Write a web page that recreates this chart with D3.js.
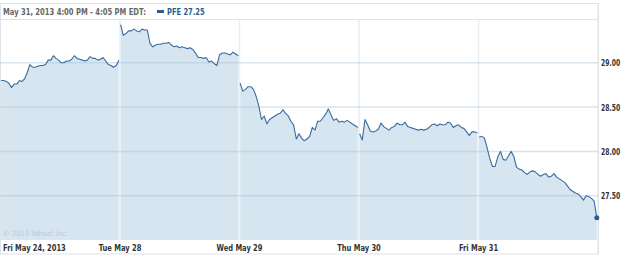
<!DOCTYPE html>
<html>
<head>
<meta charset="utf-8">
<script src="https://cdn.jsdelivr.net/npm/d3@7"></script>
<style>
  body { margin: 0; background: #fff; }
  svg { display: block; }
</style>
</head>
<body>
<div id="chart"></div>
<script>
// session labels and prices (5 min samples)
const dayLabels = ["Fri May 24, 2013", "Tue May 28", "Wed May 29", "Thu May 30", "Fri May 31"];

const fri24 = [28.80, 28.80, 28.79, 28.77, 28.72, 28.76, 28.76, 28.80, 28.79, 28.82, 28.89, 28.98,
    28.95, 28.95, 28.96, 28.97, 28.97, 28.98, 29.03, 29.03, 29.08, 29.05, 29.03, 29.00, 29.00, 29.02,
    29.02, 29.04, 29.08, 29.05, 29.04, 29.03, 29.02, 29.03, 29.07, 29.05, 29.05, 29.03, 29.04, 29.06,
    29.02, 28.98, 28.97, 28.95, 28.97, 29.03];
const tue28 = [29.43, 29.31, 29.33, 29.36, 29.36, 29.38, 29.36, 29.35, 29.38, 29.37, 29.37, 29.22,
    29.18, 29.20, 29.21, 29.21, 29.22, 29.22, 29.23, 29.20, 29.18, 29.19, 29.17, 29.18, 29.17, 29.16,
    29.17, 29.15, 29.11, 29.06, 29.06, 29.05, 29.06, 29.01, 29.02, 28.99, 28.97, 29.09, 29.11, 29.11,
    29.10, 29.09, 29.12, 29.10, 29.08];
const wed29 = [28.77, 28.68, 28.70, 28.73, 28.73, 28.70, 28.62, 28.51, 28.36, 28.40, 28.31, 28.36,
    28.38, 28.40, 28.42, 28.43, 28.47, 28.43, 28.40, 28.34, 28.30, 28.14, 28.20, 28.15, 28.12, 28.14,
    28.17, 28.27, 28.24, 28.34, 28.34, 28.38, 28.42, 28.48, 28.41, 28.35, 28.37, 28.33, 28.34, 28.33,
    28.35, 28.33, 28.31, 28.29, 28.27];
const thu30 = [28.20, 28.13, 28.36, 28.30, 28.23, 28.22, 28.23, 28.25, 28.32, 28.28, 28.26, 28.24,
    28.27, 28.28, 28.32, 28.30, 28.30, 28.33, 28.28, 28.27, 28.26, 28.25, 28.24, 28.25, 28.24, 28.25,
    28.27, 28.30, 28.31, 28.29, 28.31, 28.30, 28.30, 28.33, 28.32, 28.27, 28.29, 28.30, 28.27, 28.26,
    28.22, 28.18, 28.22, 28.22, 28.21];
const fri31 = [28.16, 28.17, 28.15, 28.04, 27.92, 27.83, 27.83, 27.94, 28.00, 27.91, 27.90, 27.95,
    28.00, 27.94, 27.82, 27.80, 27.79, 27.76, 27.74, 27.77, 27.78, 27.77, 27.74, 27.72, 27.74, 27.75,
    27.71, 27.72, 27.75, 27.71, 27.69, 27.67, 27.65, 27.61, 27.57, 27.55, 27.53, 27.52, 27.49, 27.45,
    27.50, 27.49, 27.47, 27.44, 27.25];

const sessions = [fri24, tue28, wed29, thu30, fri31];
const yTicks = [27.5, 28.0, 28.5, 29.0];
const headerLabel = "May 31, 2013 4:00 PM - 4:05 PM EDT:";
const symbol = "PFE";
const lastPrice = 27.25;
const copyright = "\u00a9 2013 Yahoo! Inc.";

// layout
const config = {
    width: 625,
    height: 257,
    plot: { left: 0.5, right: 598, top: 19, bottom: 240 },
    colors: {
        line: "#3a6b9e",
        fill: "#d6e5f0",
        grid: "rgba(170,195,215,0.45)",
        vgrid: "#e6edf3",
        border: "#dde3e8",
        label: "#333",
        header: "#666",
        blue: "#2d5d8e"
    },
    font: "'DejaVu Sans', Verdana, sans-serif",
    condense: 0.84
};

const svg = d3.select("#chart").append("svg")
    .attr("width", config.width)
    .attr("height", config.height);

const x = d3.scaleLinear().domain([0, sessions.length]).range([config.plot.left, config.plot.right]);
const y = d3.scaleLinear().domain([27, 29.5]).range([config.plot.bottom, 18.5]);

// each session spread over its own day slot
const series = sessions.map((vals, d) => vals.map((v, i) => ({
    pos: d + 0.005 + i / (vals.length - 1) * 0.985,
    value: v
})));

const area = d3.area()
    .x(p => x(p.pos))
    .y0(config.plot.bottom)
    .y1(p => y(p.value));

const line = d3.line()
    .x(p => x(p.pos))
    .y(p => y(p.value));

// outer frame
svg.append("rect")
    .attr("x", 0.5).attr("y", 3.5)
    .attr("width", config.plot.right - 0.5).attr("height", 250.5)
    .attr("fill", "none")
    .attr("stroke", config.colors.border);

svg.append("line")
    .attr("x1", 0).attr("x2", config.plot.right)
    .attr("y1", config.plot.top + 0.5).attr("y2", config.plot.top + 0.5)
    .attr("stroke", config.colors.border);

// area per session
svg.append("g").selectAll("path")
    .data(series)
    .join("path")
    .attr("d", area)
    .attr("fill", config.colors.fill);

// day separators
svg.append("g").selectAll("line")
    .data(d3.range(1, sessions.length))
    .join("line")
    .attr("x1", d => x(d)).attr("x2", d => x(d))
    .attr("y1", config.plot.top).attr("y2", config.plot.bottom)
    .attr("stroke", config.colors.vgrid)
    .attr("stroke-width", 1.5);

// horizontal grid
svg.append("g").selectAll("line")
    .data(yTicks)
    .join("line")
    .attr("x1", 0).attr("x2", config.plot.right)
    .attr("y1", d => y(d)).attr("y2", d => y(d))
    .attr("stroke", config.colors.grid)
    .attr("stroke-width", 1.5);

// right border of plot
svg.append("line")
    .attr("x1", config.plot.right + 0.5).attr("x2", config.plot.right + 0.5)
    .attr("y1", 3).attr("y2", 254)
    .attr("stroke", config.colors.border);

// price line
svg.append("g").selectAll("path")
    .data(series)
    .join("path")
    .attr("d", line)
    .attr("fill", "none")
    .attr("stroke", config.colors.line)
    .attr("stroke-width", 1.1)
    .attr("stroke-linejoin", "round");

const last = series[series.length - 1];
svg.append("circle")
    .attr("cx", x(last[last.length - 1].pos))
    .attr("cy", y(lastPrice))
    .attr("r", 2.5)
    .attr("fill", config.colors.blue);

// condensed text helper
function addText(g, txt, opts) {
    const t = g.append("text")
        .text(txt)
        .attr("x", opts.x)
        .attr("y", opts.y)
        .attr("font-family", config.font)
        .attr("font-size", opts.size + "px")
        .attr("font-weight", opts.weight || "bold")
        .attr("fill", opts.color);
    const w = t.node().getComputedTextLength() * (opts.condense || config.condense);
    t.attr("textLength", w).attr("lengthAdjust", "spacingAndGlyphs");
    if (opts.anchor === "middle") t.attr("x", opts.x - w / 2);
    return t;
}

// x axis labels
const xg = svg.append("g");
dayLabels.forEach((lab, d) => {
    addText(xg, lab, {
        x: d === 0 ? 3 : x(d),
        y: 250.5,
        size: 8,
        color: config.colors.label,
        anchor: d === 0 ? "start" : "middle"
    });
});

// y axis labels
const yg = svg.append("g");
yTicks.forEach(v => {
    addText(yg, d3.format(".2f")(v), {
        x: 601,
        y: y(v) + 3.5,
        size: 8,
        color: config.colors.label,
        condense: 0.76
    });
});

// header
const hg = svg.append("g");
addText(hg, headerLabel, { x: 3, y: 14.5, size: 8, color: config.colors.header, condense: 0.85 });
hg.append("rect")
    .attr("x", 157).attr("y", 10)
    .attr("width", 7).attr("height", 3)
    .attr("fill", config.colors.blue);
addText(hg, symbol + " " + d3.format(".2f")(lastPrice), { x: 167, y: 14.5, size: 8, color: config.colors.blue });

// copyright
addText(svg, copyright, { x: 3, y: 236, size: 7.5, weight: "normal", color: "#b9c9d6", condense: 0.9 });
</script>
</body>
</html>
